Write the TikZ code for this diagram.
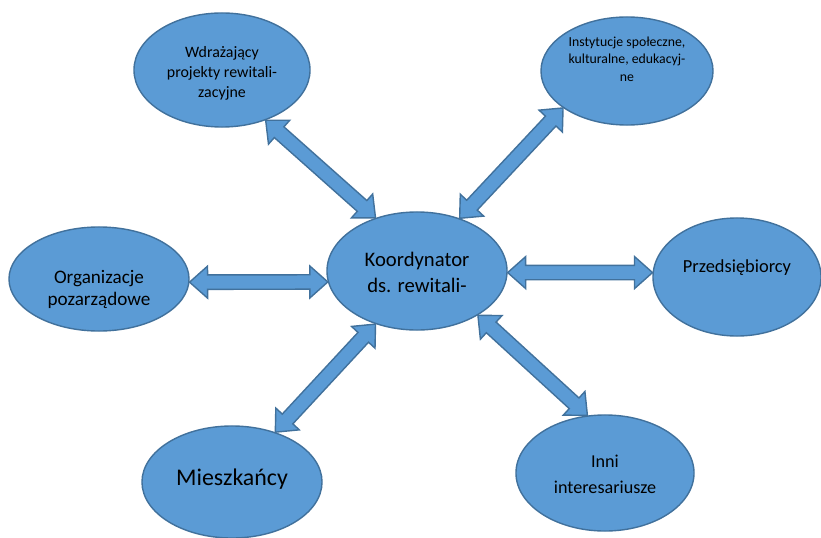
\documentclass[tikz,border=0pt]{standalone}
\usepackage{fontspec}
\setmainfont{Carlito}
\usepackage{xcolor}
\usetikzlibrary{calc, shapes.geometric}
\definecolor{bubble}{HTML}{5B9BD5}
\definecolor{bubbleline}{HTML}{41719C}
\tikzset{
    actor/.style={ellipse, draw=bubbleline, line width=1pt, fill=bubble, align=center, inner sep=0pt, text=black},
    link/.style={draw=bubbleline, line width=1pt, fill=bubble, line join=miter}
}
% block arrow with a head at both ends
\newcommand{\twoway}[2]{%
    \filldraw[link] (#1)
        -- ($(#1)!0.45cm!(#2)!0.4cm!90:(#2)$)
        -- ($(#1)!0.45cm!(#2)!0.18cm!90:(#2)$)
        -- ($(#2)!0.45cm!(#1)!0.18cm!-90:(#1)$)
        -- ($(#2)!0.45cm!(#1)!0.4cm!-90:(#1)$)
        -- (#2)
        -- ($(#2)!0.45cm!(#1)!0.4cm!90:(#1)$)
        -- ($(#2)!0.45cm!(#1)!0.18cm!90:(#1)$)
        -- ($(#1)!0.45cm!(#2)!0.18cm!-90:(#2)$)
        -- ($(#1)!0.45cm!(#2)!0.4cm!-90:(#2)$)
        -- cycle;}

\begin{document}
\begin{tikzpicture}[x=0.025cm, y=-0.025cm]
    \useasboundingbox (0,0) rectangle (821,538);

    % Center
    \node[actor, minimum width=4.5cm, minimum height=2.95cm, text height=1.05cm, text depth=0pt,
        font=\fontsize{14.7}{17.8}\selectfont] (koord) at (417,271) {Koordynator\\ds. rewitali-};

    % Around
    \node[actor, minimum width=4.4cm, minimum height=2.85cm, text height=1.35cm, text depth=0pt,
        font=\fontsize{11.3}{14.2}\selectfont] (wdr) at (222,70) {Wdrażający\\projekty rewitali-\\zacyjne};
    \node[actor, minimum width=4.3cm, minimum height=2.7cm, text height=0.5cm, text depth=0pt,
        font=\fontsize{9.8}{12.4}\selectfont] (inst) at (627,71) {Instytucje społeczne,\\kulturalne, edukacyj-\\ne};
    \node[actor, minimum width=4.5cm, minimum height=2.6cm, text height=1.3cm, text depth=0pt,
        font=\fontsize{13.6}{15}\selectfont] (org) at (99,279) {Organizacje\\pozarządowe};
    \node[actor, minimum width=4.2cm, minimum height=2.95cm, text height=0pt, text depth=0.25cm,
        font=\fontsize{13.1}{15}\selectfont] (przed) at (737,277) {Przedsiębiorcy};
    \node[actor, minimum width=4.5cm, minimum height=2.8cm, text height=0.15cm, text depth=0pt,
        font=\fontsize{17}{20}\selectfont] (miesz) at (232,482) {Mieszkańcy};
    \node[actor, minimum width=4.45cm, minimum height=2.9cm, text height=1cm, text depth=0pt,
        font=\fontsize{12.9}{17.8}\selectfont] (inni) at (605,473) {Inni\\interesariusze};

    % Links
    \twoway{wdr.-49}{koord.128}
    \twoway{inst.210}{koord.51}
    \twoway{org.-2}{koord.187}
    \twoway{przed.177}{koord.-1}
    \twoway{miesz.49}{koord.232}
    \twoway{inni.107}{koord.-36}
\end{tikzpicture}
\end{document}
